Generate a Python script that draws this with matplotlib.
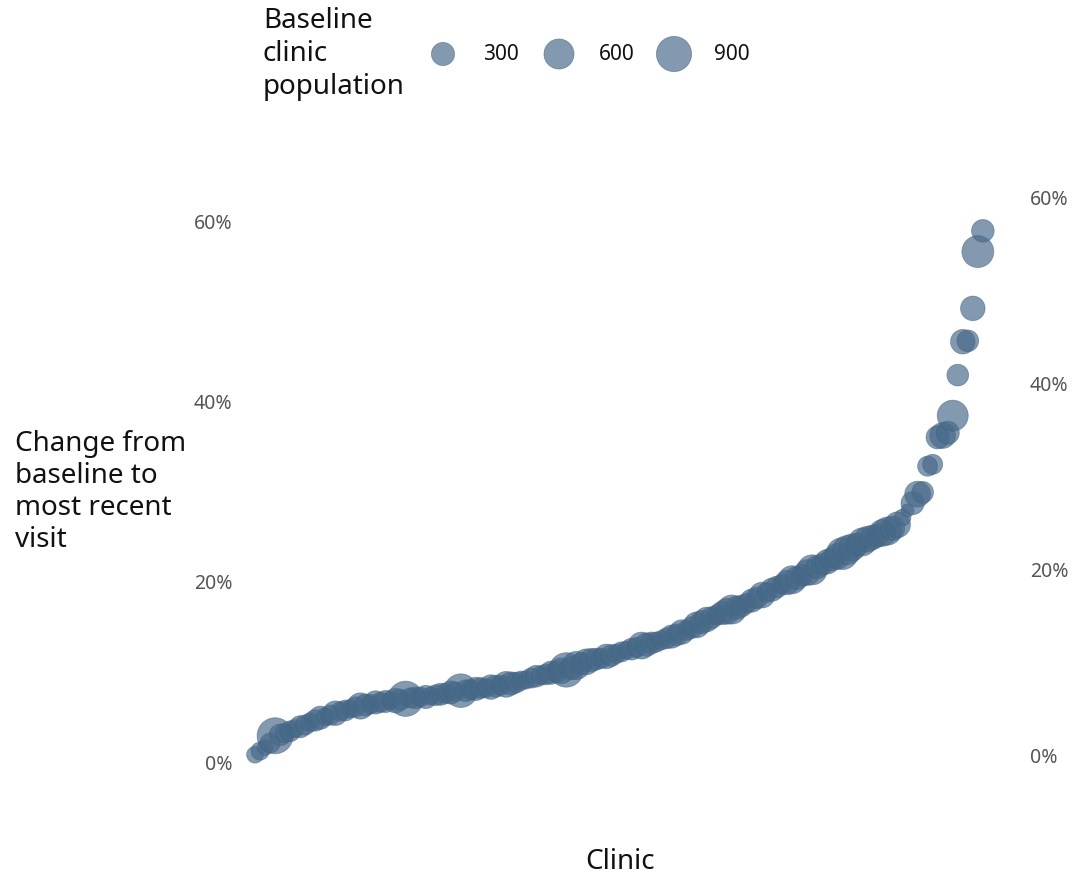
import numpy as np
import matplotlib
matplotlib.use("Agg")
import matplotlib.pyplot as plt
from matplotlib.ticker import FuncFormatter

plt.rcParams['font.family'] = ['Noto Sans', 'DejaVu Sans']

# ---- data (clinics sorted by change) ----
change_pct = [
    0.7, 1.1, 1.5, 2.0, 2.8, 2.9, 3.1, 3.3, 3.6, 3.8,
    4.0, 4.3, 4.5, 4.8, 4.9, 5.1, 5.3, 5.5, 5.6, 5.8,
    6.0, 6.1, 6.2, 6.3, 6.5, 6.5, 6.6, 6.7, 6.7, 6.8,
    6.9, 7.0, 7.0, 7.1, 7.1, 7.2, 7.3, 7.4, 7.5, 7.6,
    7.7, 7.8, 7.8, 7.9, 8.0, 8.1, 8.1, 8.2, 8.3, 8.4,
    8.5, 8.6, 8.7, 8.9, 9.0, 9.2, 9.4, 9.5, 9.6, 9.8,
    9.9, 10.0, 10.1, 10.3, 10.6, 10.8, 11.0, 11.2, 11.3, 11.4,
    11.6, 11.7, 11.9, 12.1, 12.3, 12.4, 12.6, 12.8, 12.9, 13.1,
    13.2, 13.4, 13.6, 13.8, 14.0, 14.3, 14.5, 14.8, 15.1, 15.4,
    15.7, 15.9, 16.2, 16.4, 16.6, 16.8, 17.0, 17.2, 17.5, 17.8,
    18.1, 18.4, 18.7, 19.0, 19.3, 19.6, 19.8, 20.1, 20.3, 20.6,
    20.9, 21.2, 21.5, 21.8, 22.1, 22.4, 22.7, 23.0, 23.4, 23.7,
    24.0, 24.3, 24.6, 24.8, 25.0, 25.3, 25.5, 25.8, 26.2, 27.0,
    27.8, 28.6, 29.6, 29.8, 32.7, 32.9, 35.9, 36.1, 36.4, 38.3,
    42.8, 46.5, 46.6, 50.2, 56.5, 58.8,
]
population = [
    120, 150, 100, 200, 950, 250, 180, 220, 150, 260,
    200, 170, 240, 300, 150, 200, 350, 180, 220, 160,
    200, 420, 250, 180, 300, 200, 260, 150, 350, 220,
    900, 200, 250, 180, 300, 150, 220, 260, 200, 300,
    180, 800, 250, 200, 300, 220, 180, 350, 250, 200,
    400, 300, 220, 180, 150, 200, 250, 180, 220, 300,
    250, 400, 850, 300, 500, 250, 400, 300, 250, 200,
    350, 250, 180, 200, 150, 250, 200, 450, 300, 250,
    200, 180, 220, 300, 250, 350, 200, 250, 400, 300,
    350, 250, 200, 300, 400, 550, 300, 250, 200, 300,
    250, 400, 200, 300, 250, 200, 350, 500, 300, 250,
    400, 600, 300, 250, 350, 300, 400, 700, 550, 450,
    300, 500, 400, 350, 300, 450, 500, 350, 400, 120,
    60, 300, 400, 250, 200, 200, 300, 400, 300, 650,
    250, 350, 250, 350, 700, 280,
]
legend_sizes = [300, 600, 900]
legend_title = "Baseline\nclinic\npopulation"
y_ticks = [0, 20, 40, 60]

DPI = 100
W, H = 1074, 878

def diam_px(p):
    p = np.asarray(p, dtype=float)
    return 8 + 28 * np.sqrt(np.clip((p - 30) / 920, 0, 1))

def s_pt2(p):
    return (diam_px(p) * 72 / DPI) ** 2

face = (71/255, 105/255, 137/255, 0.68)
edge = (66/255, 98/255, 130/255, 0.55)

fig = plt.figure(figsize=(W / DPI, H / DPI), dpi=DPI)

# main axes in pixel layout
ax_l, ax_r, ax_t, ax_b = 245, 1020, 180, 790
ax = fig.add_axes([ax_l / W, 1 - ax_b / H, (ax_r - ax_l) / W, (ax_b - ax_t) / H])
x = np.arange(len(change_pct))
ax.scatter(x, change_pct, s=s_pt2(population), facecolor=face, edgecolor=edge,
           linewidth=0.6, zorder=3)
ax.set_xlim(-2, 152.4)
ax.set_ylim(-3.105, 64.55)
ax.set_yticks(y_ticks)
ax.yaxis.set_major_formatter(FuncFormatter(lambda v, _: f"{int(v)}%"))
ax.set_xticks([])
ax.tick_params(axis='y', length=0, pad=9, labelsize=14, labelcolor='#555555')
for sp in ax.spines.values():
    sp.set_visible(False)

# secondary right axis
ax2 = ax.twinx()
ax2.set_ylim(-3.763, 61.83)
ax2.set_yticks(y_ticks)
ax2.yaxis.set_major_formatter(FuncFormatter(lambda v, _: f"{int(v)}%"))
ax2.tick_params(axis='y', length=0, pad=7, labelsize=14, labelcolor='#555555')
for sp in ax2.spines.values():
    sp.set_visible(False)

# overlay axes in pixel coordinates for labels and legend
ov = fig.add_axes([0, 0, 1, 1], zorder=5)
ov.set_xlim(0, W)
ov.set_ylim(H, 0)
ov.axis('off')
ov.patch.set_alpha(0)

ov.text(15, 492, "Change from\nbaseline to\nmost recent\nvisit", ha='left', va='center',
        fontsize=20, color='#111111', linespacing=1.2)
ov.text(620, 862, "Clinic", ha='center', va='center', fontsize=20, color='#111111')

ov.text(263, 54, legend_title, ha='left', va='center', fontsize=20,
        color='#111111', linespacing=1.22)
leg_x = [443, 559, 674]
ov.scatter(leg_x, [55] * 3, s=s_pt2(legend_sizes), facecolor=face,
           edgecolor=edge, linewidth=0.6)
for lx, val in zip(leg_x, legend_sizes):
    ov.text(lx + 40, 55, str(val), ha='left', va='center', fontsize=15, color='#111111')

fig.savefig("out.png", dpi=DPI, facecolor='white')
